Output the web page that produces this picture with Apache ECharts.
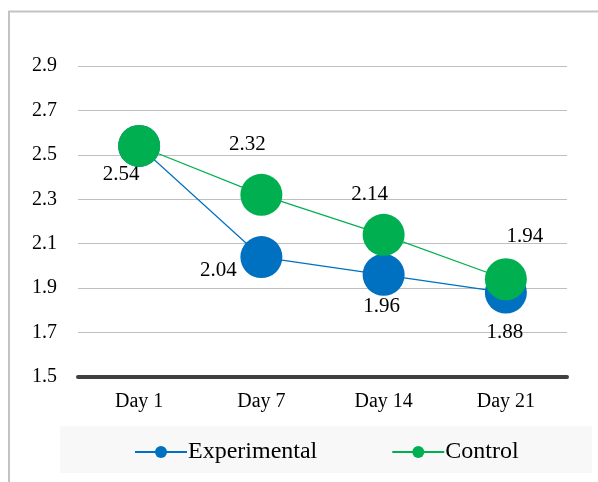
<!DOCTYPE html>
<html>
<head>
<meta charset="utf-8">
<script src="https://cdn.jsdelivr.net/npm/echarts@6/dist/echarts.min.js"></script>
<style>
html,body{margin:0;padding:0;background:#fff;}
#c{width:598px;height:482px;}
</style>
</head>
<body>
<div id="c"></div>
<script>
var categories = ['Day 1', 'Day 7', 'Day 14', 'Day 21'];
var experimental = [2.54, 2.04, 1.96, 1.88];
var control = [2.54, 2.32, 2.14, 1.94];
var seriesNames = ['Experimental', 'Control'];
var yTicks = {min: 1.5, max: 2.9, interval: 0.2};

var FONT = '"Liberation Serif", "Times New Roman", serif';
var expOffsets = [[-18, 29], [-43, 13], [-2, 32], [-1, 40]];
var ctlOffsets = [null, [-14, -50], [-14, -40], [19, -43]];

function mkData(vals, offs) {
  return vals.map(function (v, i) {
    var o = offs[i];
    if (!o) return {value: v, label: {show: false}};
    return {value: v, label: {show: true, position: 'inside', offset: o}};
  });
}

var chart = echarts.init(document.getElementById('c'), null, {renderer: 'canvas'});
chart.setOption({
  animation: false,
  backgroundColor: '#fff',
  graphic: [
    {type: 'rect', z: -10, shape: {x: 9, y: 11.5, width: 600, height: 480},
     style: {fill: 'none', stroke: '#c3c3c3', lineWidth: 2}},
    {type: 'rect', z: -10, shape: {x: 60, y: 426, width: 532, height: 47},
     style: {fill: '#f8f8f8'}}
  ],
  grid: {left: 78, right: 31, top: 66, bottom: 105, containLabel: false},
  legend: {
    left: 134, top: 440, padding: 0,
    itemWidth: 52, itemHeight: 15, itemGap: 74,
    textStyle: {fontFamily: FONT, fontSize: 24, color: '#000', padding: [0, 0, 0, -4]},
    data: seriesNames
  },
  xAxis: {
    type: 'category', data: categories, boundaryGap: true,
    axisLine: {show: true, lineStyle: {color: '#404040', width: 4}},
    axisTick: {show: false},
    axisLabel: {fontFamily: FONT, fontSize: 20, color: '#000', margin: 15},
    z: 5
  },
  yAxis: {
    type: 'value', min: yTicks.min, max: yTicks.max, interval: yTicks.interval,
    axisLine: {show: false}, axisTick: {show: false},
    axisLabel: {fontFamily: FONT, fontSize: 20, color: '#000', margin: 21,
      formatter: function (v) { return v.toFixed(1); }},
    splitLine: {lineStyle: {color: '#bfbfbf', width: 1}}
  },
  series: [
    {
      name: seriesNames[0], type: 'line', data: mkData(experimental, expOffsets),
      symbol: 'circle', symbolSize: 42,
      itemStyle: {color: '#0070C0'},
      lineStyle: {color: '#0070C0', width: 1.2},
      label: {fontFamily: FONT, fontSize: 21, color: '#000'},
      z: 2
    },
    {
      name: seriesNames[1], type: 'line', data: mkData(control, ctlOffsets),
      symbol: 'circle', symbolSize: 42,
      itemStyle: {color: '#00B050'},
      lineStyle: {color: '#00B050', width: 1.2},
      label: {fontFamily: FONT, fontSize: 21, color: '#000'},
      z: 3
    }
  ]
});
</script>
</body>
</html>
